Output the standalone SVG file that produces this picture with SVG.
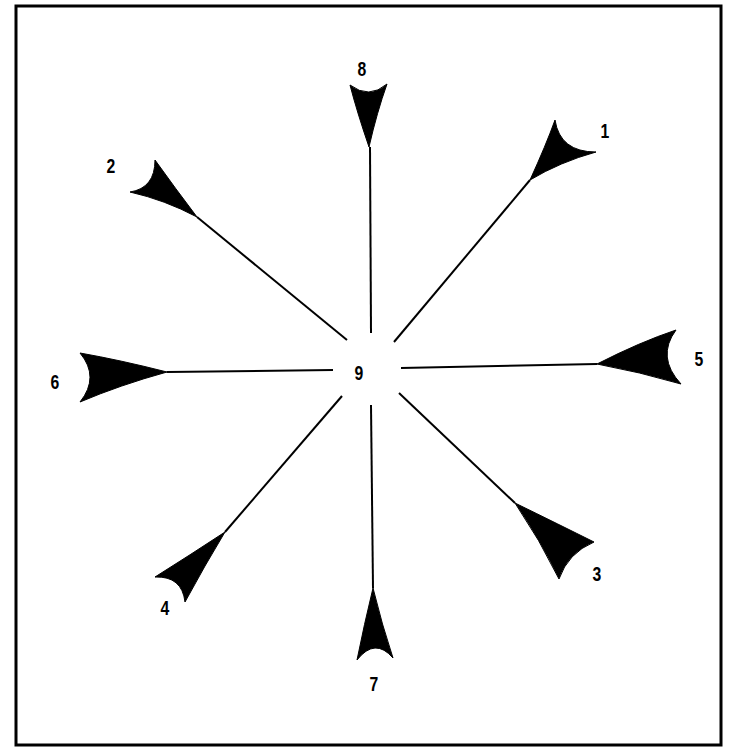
<svg xmlns="http://www.w3.org/2000/svg" width="730" height="748" viewBox="0 0 730 748">
<style>
.frame{fill:none;stroke:#000;stroke-width:3}
.ln{stroke:#000;stroke-width:2;fill:none}
.head{fill:#000;stroke:#000;stroke-width:1;stroke-linejoin:round}
.lbl{font-family:"Liberation Sans",Arial,sans-serif;font-weight:bold;font-size:21px;fill:#000;text-anchor:middle}
</style>
<rect width="730" height="748" fill="#fff"/>
<rect class="frame" x="16" y="6" width="705" height="739"/>
<g id="connectors">
<line class="ln" x1="370" y1="147" x2="371" y2="333"/>
<line class="ln" x1="530" y1="180" x2="394" y2="342"/>
<line class="ln" x1="597" y1="364" x2="401" y2="368"/>
<line class="ln" x1="167" y1="372" x2="333" y2="370"/>
<line class="ln" x1="515" y1="503" x2="399" y2="393"/>
<line class="ln" x1="373" y1="588" x2="371" y2="405"/>
<line class="ln" x1="225" y1="532" x2="342" y2="396"/>
<line class="ln" x1="197" y1="217" x2="347" y2="340"/>
</g>
<g id="node8">
<path class="head" d="M369,147 Q357,112 350,85 Q369,99.5 387,84 Q377,112 369,147 Z"/>
<text class="lbl" transform="translate(362,76) scale(0.75,1)">8</text>
</g>
<g id="node1">
<path class="head" d="M530,180 Q546,145 555,120 Q560,152 596,152 Q560,162 530,180 Z"/>
<text class="lbl" transform="translate(605,138) scale(0.75,1)">1</text>
</g>
<g id="node5">
<path class="head" d="M597,364 Q640,342 676,330 Q656,357 681,384 Q640,372 597,364 Z"/>
<text class="lbl" transform="translate(699,366) scale(0.75,1)">5</text>
</g>
<g id="node6">
<path class="head" d="M167,372 Q120,360 80,353 Q100,377 80,402 Q120,385 167,372 Z"/>
<text class="lbl" transform="translate(55,389) scale(0.75,1)">6</text>
</g>
<g id="node3">
<path class="head" d="M515,503 Q560,525 594,542 Q568,553 559,579 Q540,540 515,503 Z"/>
<text class="lbl" transform="translate(597,581) scale(0.75,1)">3</text>
</g>
<g id="node7">
<path class="head" d="M373,588 Q364,625 357,660 Q375,637 393,658 Q382,625 373,588 Z"/>
<text class="lbl" transform="translate(374,691) scale(0.75,1)">7</text>
</g>
<g id="node4">
<path class="head" d="M225,532 Q190,555 155,577 Q182,576 185,602 Q205,565 225,532 Z"/>
<text class="lbl" transform="translate(165,615) scale(0.75,1)">4</text>
</g>
<g id="node2">
<path class="head" d="M197,217 Q175,188 155,160 Q155,188 130,192 Q165,200 197,217 Z"/>
<text class="lbl" transform="translate(111,173) scale(0.75,1)">2</text>
</g>
<g id="node9">
<text class="lbl" transform="translate(359,380) scale(0.75,1)">9</text>
</g>
</svg>
